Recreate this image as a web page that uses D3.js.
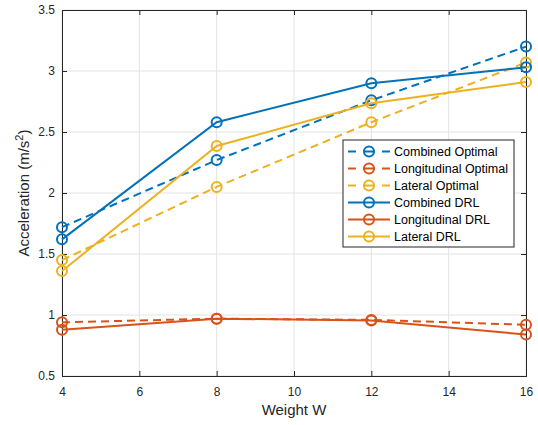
<!DOCTYPE html>
<html><head><meta charset="utf-8">
<script src="https://cdn.jsdelivr.net/npm/d3@7"></script>
<style>body{margin:0;background:#fff;} text{font-family:"Liberation Sans",Arial,sans-serif;}</style>
</head><body><svg id="c" width="538" height="425"></svg>
<script>
const weights = [4, 8, 12, 16];
const combinedOptimal = [1.72, 2.27, 2.76, 3.20];
const longitudinalOptimal = [0.94, 0.97, 0.96, 0.92];
const lateralOptimal = [1.45, 2.05, 2.58, 3.07];
const combinedDRL = [1.62, 2.58, 2.90, 3.03];
const longitudinalDRL = [0.88, 0.97, 0.955, 0.84];
const lateralDRL = [1.36, 2.385, 2.735, 2.91];
const xTicks = [4, 6, 8, 10, 12, 14, 16];
const yTicks = [0.5, 1, 1.5, 2, 2.5, 3, 3.5];
const seriesNames = ["Combined Optimal","Longitudinal Optimal","Lateral Optimal","Combined DRL","Longitudinal DRL","Lateral DRL"];
const seriesValues = [combinedOptimal, longitudinalOptimal, lateralOptimal, combinedDRL, longitudinalDRL, lateralDRL];
const seriesColors = ["#0072BD","#D95319","#EDB120","#0072BD","#D95319","#EDB120"];
const seriesDashed = [true,true,true,false,false,false];

const svg = d3.select("#c");
const L=62, R=526, T=10, B=376;
const x = d3.scaleLinear().domain([4,16]).range([L,R]);
const y = d3.scaleLinear().domain([0.5,3.5]).range([B,T]);

// grid
const g = svg.append("g");
g.selectAll(".gx").data(xTicks).enter().append("line")
 .attr("x1",d=>x(d)).attr("x2",d=>x(d)).attr("y1",T).attr("y2",B)
 .attr("stroke","#e3e3e3").attr("stroke-width",1);
g.selectAll(".gy").data(yTicks).enter().append("line")
 .attr("y1",d=>y(d)).attr("y2",d=>y(d)).attr("x1",L).attr("x2",R)
 .attr("stroke","#e3e3e3").attr("stroke-width",1);

// axes
const xa = svg.append("g").attr("transform",`translate(0,${B})`)
 .call(d3.axisBottom(x).tickValues(xTicks).tickSize(-5).tickPadding(11).tickFormat(d3.format("")));
const xt = svg.append("g").attr("transform",`translate(0,${T})`)
 .call(d3.axisTop(x).tickValues(xTicks).tickSize(-5).tickFormat(""));
const ya = svg.append("g").attr("transform",`translate(${L},0)`)
 .call(d3.axisLeft(y).tickValues(yTicks).tickSize(-5).tickPadding(7).tickFormat(d=>d3.format("")(d)));
const yr = svg.append("g").attr("transform",`translate(${R},0)`)
 .call(d3.axisRight(y).tickValues(yTicks).tickSize(-5).tickFormat(""));
[xa,xt,ya,yr].forEach(a=>{
  a.selectAll("path").attr("stroke","#262626").attr("stroke-width",1);
  a.selectAll("line").attr("stroke","#262626");
  a.selectAll("text").attr("fill","#262626").style("font-size","12px").style("font-family","Liberation Sans, Arial, sans-serif");
});

// lines
const line = d3.line().x((d,i)=>x(weights[i])).y(d=>y(d));
seriesValues.forEach((vals,k)=>{
  const s = svg.append("g");
  s.append("path").attr("d",line(vals)).attr("fill","none")
   .attr("stroke",seriesColors[k]).attr("stroke-width",2)
   .attr("stroke-dasharray",seriesDashed[k]?"8,5":null);
  s.selectAll("circle").data(vals).enter().append("circle")
   .attr("cx",(d,i)=>x(weights[i])).attr("cy",d=>y(d)).attr("r",5)
   .attr("fill","none").attr("stroke",seriesColors[k]).attr("stroke-width",2);
});

// labels
svg.append("text").attr("x",(L+R)/2).attr("y",415).attr("text-anchor","middle")
 .attr("fill","#262626").style("font-size","15px").text("Weight W");
const yl = svg.append("text").attr("transform",`translate(29,${(T+B)/2}) rotate(-90)`)
 .attr("text-anchor","middle").attr("fill","#262626").style("font-size","15px");
yl.append("tspan").text("Acceleration (m/s");
yl.append("tspan").attr("dy",-6).style("font-size","11px").text("2");
yl.append("tspan").attr("dy",6).text(")");

// legend
const lg = svg.append("g");
const lx=343, ly=140, lw=171, lh=107, rowH=17;
lg.append("rect").attr("x",lx).attr("y",ly).attr("width",lw).attr("height",lh)
 .attr("fill","#fff").attr("stroke","#262626").attr("stroke-width",1);
seriesNames.forEach((n,k)=>{
  const cy = ly+11.5+k*rowH;
  lg.append("line").attr("x1",lx+5).attr("x2",lx+47).attr("y1",cy).attr("y2",cy)
   .attr("stroke",seriesColors[k]).attr("stroke-width",2)
   .attr("stroke-dasharray",seriesDashed[k]?"8,7,12,7,8":null);
  lg.append("circle").attr("cx",lx+26).attr("cy",cy).attr("r",5)
   .attr("fill","none").attr("stroke",seriesColors[k]).attr("stroke-width",2);
  lg.append("text").attr("x",lx+51).attr("y",cy+4.5).attr("fill","#000")
   .style("font-size","12.5px").text(n);
});
</script></body></html>
